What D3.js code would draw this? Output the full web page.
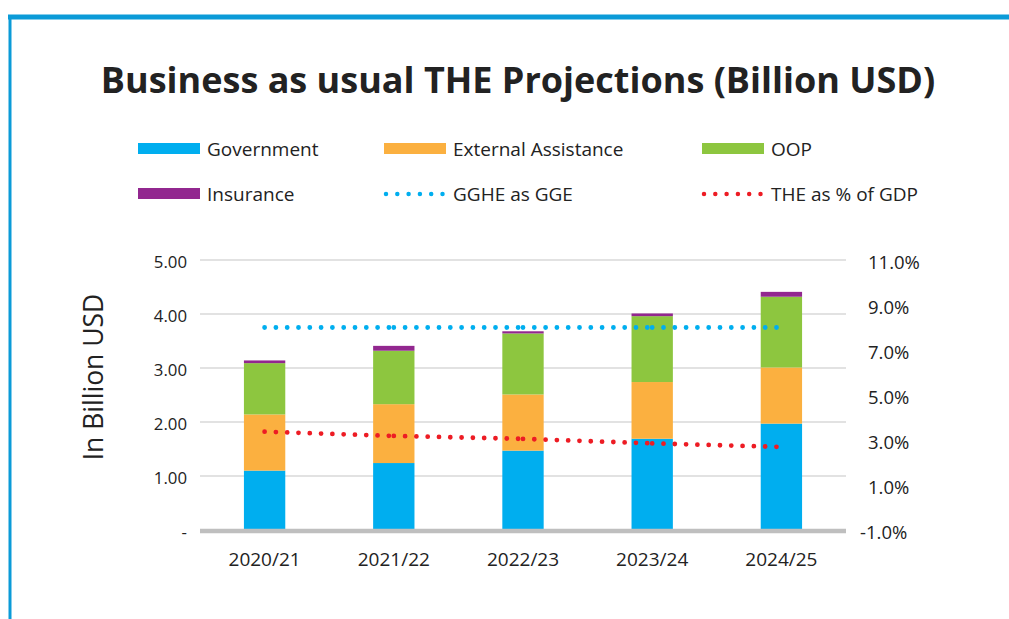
<!DOCTYPE html>
<html>
<head>
<meta charset="utf-8">
<script src="https://cdn.jsdelivr.net/npm/d3@7/dist/d3.min.js"></script>
<style>
  body { margin: 0; background: #fff; }
  svg { display: block; font-family: "Open Sans", sans-serif; }
</style>
</head>
<body>
<svg id="chart" width="1009" height="619"></svg>
<script>
// values
const years = ["2020/21", "2021/22", "2022/23", "2023/24", "2024/25"];
const government = [1.10, 1.24, 1.47, 1.69, 1.97];
const external = [1.04, 1.09, 1.04, 1.05, 1.04];
const oop = [0.95, 0.99, 1.13, 1.22, 1.31];
const insurance = [0.05, 0.09, 0.04, 0.05, 0.09];
const gghe = [8.0, 8.0, 8.0, 8.0, 8.0];
const thePct = [3.37, 3.18, 3.05, 2.85, 2.69];
const leftTicks = [0, 1, 2, 3, 4, 5];
const rightTicks = [-1, 1, 3, 5, 7, 9, 11];

const seriesNames = ["Government", "External Assistance", "OOP", "Insurance"];
const colors = ["#00aeef", "#fbb040", "#8dc63f", "#92278f"];

const svg = d3.select("#chart");

// frame
svg.append("line").attr("x1", 8).attr("x2", 1009).attr("y1", 17).attr("y2", 17)
  .attr("stroke", "#0b9bd8").attr("stroke-width", 5);
svg.append("line").attr("x1", 10).attr("x2", 10).attr("y1", 15).attr("y2", 619)
  .attr("stroke", "#0b9bd8").attr("stroke-width", 3);

svg.append("text")
  .attr("x", 518).attr("y", 93)
  .attr("text-anchor", "middle")
  .attr("font-size", 36).attr("font-weight", "bold").attr("fill", "#222")
  .text("Business as usual THE Projections (Billion USD)");

const margin = { left: 200, right: 163, top: 260, bottom: 89 };
const width = 1009 - margin.left - margin.right;
const height = 619 - margin.top - margin.bottom;

const g = svg.append("g").attr("transform", `translate(${margin.left},${margin.top})`);

const x = d3.scaleBand().domain(years).range([0, width]).paddingInner(0.68).paddingOuter(0.34);
const y = d3.scaleLinear().domain([0, 5]).range([height, 0]);
const y2 = d3.scaleLinear().domain([-1, 11]).range([height, 0]);

// gridlines
g.selectAll(".grid").data(leftTicks.slice(1)).enter().append("line")
  .attr("x1", 0).attr("x2", width)
  .attr("y1", d => y(d)).attr("y2", d => y(d))
  .attr("stroke", "#d9d9d9").attr("stroke-width", 1.5);

// stacked bars
const rows = years.map((yr, i) => ({
  year: yr, Government: government[i], "External Assistance": external[i],
  OOP: oop[i], Insurance: insurance[i]
}));
const stack = d3.stack().keys(seriesNames)(rows);

g.selectAll(".layer").data(stack).enter().append("g")
  .attr("fill", (d, i) => colors[i])
  .selectAll("rect").data(d => d).enter().append("rect")
  .attr("x", d => x(d.data.year))
  .attr("width", x.bandwidth())
  .attr("y", d => y(d[1]))
  .attr("height", d => y(d[0]) - y(d[1]));

// baseline
g.append("line").attr("x1", 0).attr("x2", width).attr("y1", y(0) + 1).attr("y2", y(0) + 1)
  .attr("stroke", "#bfbfbf").attr("stroke-width", 4.5);

// dotted lines, drawn segment by segment
function dotted(vals, color) {
  for (let i = 0; i < vals.length - 1; i++) {
    g.append("line")
      .attr("x1", x(years[i]) + x.bandwidth() / 2)
      .attr("x2", x(years[i + 1]) + x.bandwidth() / 2)
      .attr("y1", y2(vals[i])).attr("y2", y2(vals[i + 1]))
      .attr("stroke", color).attr("stroke-width", 4.8)
      .attr("stroke-linecap", "round")
      .attr("stroke-dasharray", "0 11.3");
  }
}
dotted(gghe, "#00aeef");
dotted(thePct, "#ed1c24");

// left axis labels
g.selectAll(".ly").data(leftTicks).enter().append("text")
  .attr("x", -13).attr("y", d => y(d) + 2.5).attr("dy", "0.35em")
  .attr("text-anchor", "end").attr("font-size", 16.8).attr("fill", "#222")
  .text(d => d === 0 ? "-" : d.toFixed(2));

// right axis labels
g.selectAll(".ry").data(rightTicks).enter().append("text")
  .attr("x", d => d < 0 ? width + 14 : width + 22).attr("y", d => y2(d) + 2.5).attr("dy", "0.35em")
  .attr("text-anchor", "start").attr("font-size", 18.5).attr("fill", "#222")
  .text(d => d.toFixed(1) + "%");

// x labels
g.selectAll(".xl").data(years).enter().append("text")
  .attr("x", d => x(d) + x.bandwidth() / 2).attr("y", height + 36)
  .attr("text-anchor", "middle").attr("font-size", 19).attr("fill", "#222")
  .text(d => d);

// y axis title
svg.append("text")
  .attr("transform", "translate(103,377) rotate(-90)")
  .attr("text-anchor", "middle").attr("font-size", 26.5).attr("fill", "#222")
  .text("In Billion USD");

// legend
const legend = [
  { name: "Government", type: "box", color: colors[0], x: 138, y: 149 },
  { name: "External Assistance", type: "box", color: colors[1], x: 384, y: 149 },
  { name: "OOP", type: "box", color: colors[2], x: 702, y: 149 },
  { name: "Insurance", type: "box", color: colors[3], x: 138, y: 194 },
  { name: "GGHE as GGE", type: "dots", color: "#00aeef", x: 384, y: 194 },
  { name: "THE as % of GDP", type: "dots", color: "#ed1c24", x: 702, y: 194 }
];
const lg = svg.selectAll(".lg").data(legend).enter().append("g");
lg.filter(d => d.type === "box").append("rect")
  .attr("x", d => d.x).attr("y", d => d.y - 6).attr("width", 62).attr("height", 11)
  .attr("fill", d => d.color);
lg.filter(d => d.type === "dots").append("line")
  .attr("x1", d => d.x + 2).attr("x2", d => d.x + 60)
  .attr("y1", d => d.y).attr("y2", d => d.y)
  .attr("stroke", d => d.color).attr("stroke-width", 4.5)
  .attr("stroke-linecap", "round").attr("stroke-dasharray", "0 11.3");
lg.append("text")
  .attr("x", d => d.x + 69).attr("y", d => d.y).attr("dy", "0.35em")
  .attr("font-size", 19).attr("fill", "#222")
  .text(d => d.name);
</script>
</body>
</html>
